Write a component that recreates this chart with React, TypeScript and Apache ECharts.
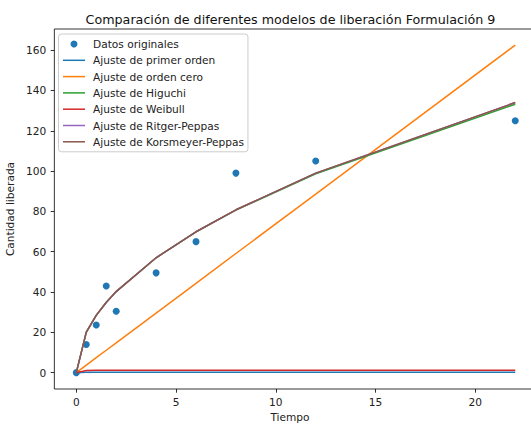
import React, { useEffect, useRef } from "react";
import * as echarts from "echarts";

// Sampling times and measured release
const tiempo = [0, 0.5, 1, 1.5, 2, 4, 6, 8, 12, 22];
const datosOriginales = [0, 14, 23.6, 43, 30.5, 49.5, 65, 99, 105, 125];

// Fitted model curves evaluated at the sampling times
const primerOrden = [0, 0.2, 0.2, 0.2, 0.2, 0.2, 0.2, 0.2, 0.2, 0.2];
const ordenCero = [0, 3.7, 7.4, 11.1, 14.8, 29.5, 44.3, 59.1, 88.6, 162.5];
const higuchi = [0, 20.2, 28.5, 34.9, 40.3, 57.0, 69.8, 80.6, 98.7, 133.2];
const weibull = [0, 1.1, 1.2, 1.2, 1.2, 1.2, 1.2, 1.2, 1.2, 1.2];
const ritgerPeppas = [0, 20.0, 28.4, 34.8, 40.2, 57.0, 69.9, 80.8, 99.0, 134.0];
const korsmeyerPeppas = [0, 20.0, 28.4, 34.8, 40.2, 57.0, 69.9, 80.8, 99.0, 134.0];

const xTicks = [0, 5, 10, 15, 20];
const yTicks = [0, 20, 40, 60, 80, 100, 120, 140, 160];

const FONT = "DejaVu Sans";
const LINE_ICON = "path://M0,0 L22,0 L22,1.5 L0,1.5 Z";

const pairs = (ys: number[]) => tiempo.map((t, i) => [t, ys[i]]);

const lineSeries = (name: string, ys: number[], color: string) => ({
  name,
  type: "line" as const,
  data: pairs(ys),
  symbol: "none",
  showSymbol: false,
  lineStyle: { color, width: 1.5 },
  itemStyle: { color },
});

const lineNames = [
  "Ajuste de primer orden",
  "Ajuste de orden cero",
  "Ajuste de Higuchi",
  "Ajuste de Weibull",
  "Ajuste de Ritger-Peppas",
  "Ajuste de Korsmeyer-Peppas",
];

export default function App() {
  const ref = useRef<HTMLDivElement>(null);

  useEffect(() => {
    if (!ref.current) return;
    const chart = echarts.init(ref.current, undefined, { renderer: "svg" });

    const axisCommon = {
      type: "value" as const,
      splitLine: { show: false },
      axisLine: { show: false, onZero: false },
      axisTick: {
        show: true,
        length: 3.7,
        lineStyle: { color: "#000", width: 0.8 },
      },
      axisLabel: {
        color: "#222",
        fontFamily: FONT,
        fontSize: 10.6,
      },
    };

    chart.setOption({
      animation: false,
      backgroundColor: "#fff",
      grid: {
        left: 54.35,
        top: 29,
        right: 7.8,
        bottom: 36,
        containLabel: false,
        outerBoundsMode: "none",
        show: true,
        borderColor: "#000",
        borderWidth: 0.8,
        backgroundColor: "transparent",
      },
      xAxis: {
        ...axisCommon,
        min: -1.1,
        max: 23.1,
        axisTick: { ...axisCommon.axisTick, customValues: xTicks },
        axisLabel: { ...axisCommon.axisLabel, margin: 7, customValues: xTicks },
      },
      yAxis: {
        ...axisCommon,
        min: -8.12,
        max: 170.5,
        axisTick: { ...axisCommon.axisTick, customValues: yTicks },
        axisLabel: { ...axisCommon.axisLabel, margin: 8, customValues: yTicks },
        name: "Cantidad liberada",
        nameLocation: "middle",
        nameGap: 33,
        nameTextStyle: { color: "#222", fontFamily: FONT, fontSize: 10.6 },
      },
      legend: {
        orient: "vertical",
        left: 58.5,
        top: 34,
        padding: [4.5, 4, 4.5, 4.5],
        itemWidth: 22,
        itemHeight: 7,
        itemGap: 5.3,
        backgroundColor: "rgba(255,255,255,0.8)",
        borderColor: "#cccccc",
        borderWidth: 1,
        borderRadius: 3,
        data: [
          { name: "Datos originales", icon: "circle" },
          ...lineNames.map((name) => ({ name, icon: LINE_ICON })),
        ],
        textStyle: {
          color: "#222",
          fontFamily: FONT,
          fontSize: 10.6,
          lineHeight: 11,
          padding: [0, 0, 0, 3],
        },
      },
      graphic: [
        {
          type: "text",
          x: 290.5,
          y: 19,
          style: {
            text: "Comparación de diferentes modelos de liberación Formulación 9",
            fontFamily: FONT,
            fontSize: 12.7,
            fill: "#111",
            textAlign: "center",
            textVerticalAlign: "middle",
          },
        },
        {
          type: "text",
          x: 290,
          y: 416.5,
          style: {
            text: "Tiempo",
            fontFamily: FONT,
            fontSize: 10.6,
            fill: "#222",
            textAlign: "center",
            textVerticalAlign: "middle",
          },
        },
      ],
      series: [
        {
          name: "Datos originales",
          type: "scatter",
          data: pairs(datosOriginales),
          symbol: "circle",
          symbolSize: 7,
          itemStyle: { color: "#1f77b4", opacity: 1 },
          z: 1,
        },
        lineSeries(lineNames[0], primerOrden, "#1f77b4"),
        lineSeries(lineNames[1], ordenCero, "#ff7f0e"),
        lineSeries(lineNames[2], higuchi, "#2ca02c"),
        lineSeries(lineNames[3], weibull, "#d62728"),
        lineSeries(lineNames[4], ritgerPeppas, "#9467bd"),
        lineSeries(lineNames[5], korsmeyerPeppas, "#8c564b"),
      ],
    });

    return () => chart.dispose();
  }, []);

  return (
    <div
      style={{
        position: "fixed",
        left: 0,
        top: 0,
        width: 531,
        height: 425,
        overflow: "hidden",
        background: "#fff",
      }}
    >
      <div ref={ref} style={{ width: 545, height: 425 }} />
    </div>
  );
}
